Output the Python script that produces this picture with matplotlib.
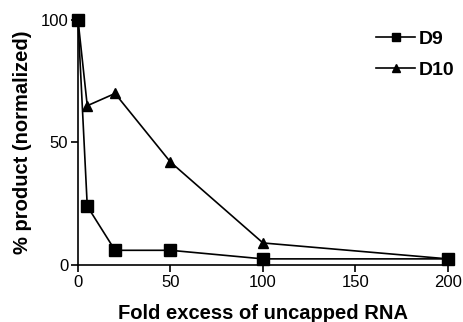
"""Competition assay: product vs fold excess of uncapped RNA (D9, D10)."""

import matplotlib

matplotlib.use("Agg")
import matplotlib.pyplot as plt

plt.rcParams["font.family"] = ["Liberation Sans", "DejaVu Sans"]

fold_excess = [0, 5, 20, 50, 100, 200]
d9_product = [100, 24, 6, 6, 2.5, 2.5]
d10_product = [100, 65, 70, 42, 9, 2.5]

x_ticks = [0, 50, 100, 150, 200]
y_ticks = [0, 50, 100]


def main() -> None:
    fig = plt.figure(figsize=(4.63, 3.22), dpi=100)
    ax = fig.add_axes([0.1685, 0.177, 0.799, 0.761])

    ax.plot(fold_excess, d9_product, color="black", marker="s", markersize=8.5,
            linewidth=1.2, label="D9", clip_on=False, zorder=3)
    ax.plot(fold_excess, d10_product, color="black", marker="^", markersize=7.5,
            linewidth=1.2, label="D10", clip_on=False, zorder=3)

    ax.set_xlim(0, 200)
    ax.set_ylim(0, 100)
    ax.set_xticks(x_ticks)
    ax.set_yticks(y_ticks)
    ax.tick_params(direction="out", length=5, width=1.2, labelsize=12, pad=2)
    for side in ("top", "right"):
        ax.spines[side].set_visible(False)
    for side in ("left", "bottom"):
        ax.spines[side].set_linewidth(1.2)

    ax.set_xlabel("Fold excess of uncapped RNA", fontsize=14.5, fontweight="bold", labelpad=10)
    ax.set_ylabel("% product (normalized)", fontsize=14.5, fontweight="bold", labelpad=6)

    ax.legend(loc="upper right", bbox_to_anchor=(1.065, 1.03), frameon=False,
              prop={"size": 14, "weight": "bold"}, handlelength=2.0,
              handletextpad=0.2, labelspacing=0.68, markerscale=0.75)

    fig.savefig("out.png", dpi=100)
    plt.close(fig)


if __name__ == "__main__":
    main()
